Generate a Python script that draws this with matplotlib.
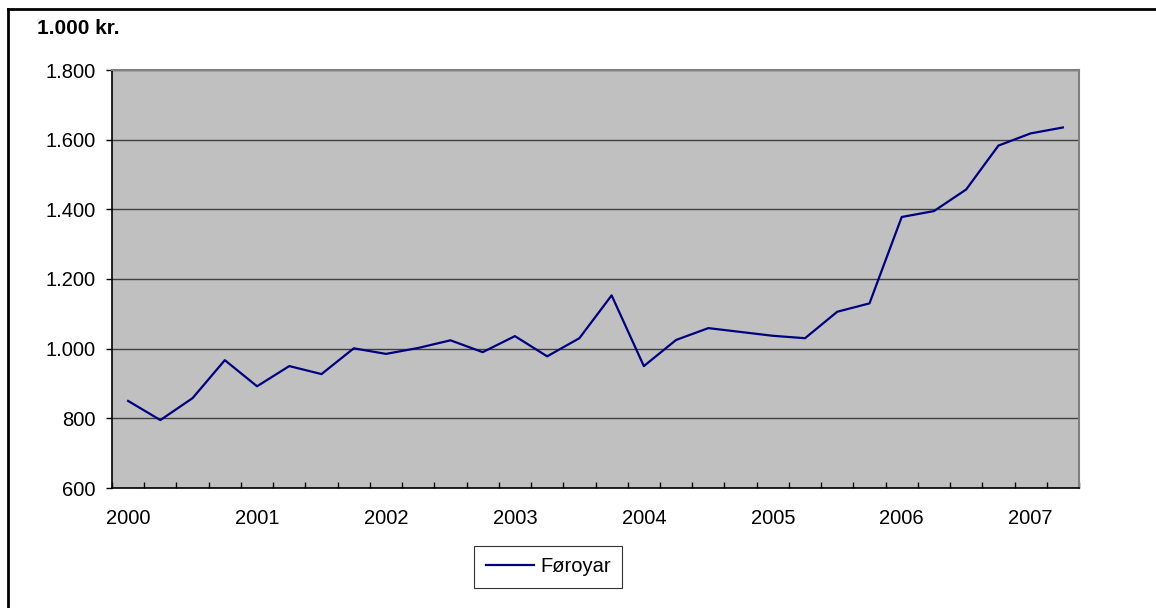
import numpy as np
import matplotlib
matplotlib.use("Agg")
import matplotlib.pyplot as plt
from matplotlib.lines import Line2D

plt.rcParams['font.family'] = ['Liberation Sans', 'DejaVu Sans']

# quarterly values, 2000 Q1 - 2007 Q2 (1.000 kr.)
values = [850, 795, 858, 967, 892, 950, 927, 1001, 985, 1002,
          1024, 990, 1036, 978, 1030, 1153, 950, 1025, 1059, 1048,
          1037, 1030, 1106, 1130, 1378, 1395, 1457, 1583, 1618, 1635]
years = ['2000', '2001', '2002', '2003', '2004', '2005', '2006', '2007']
yticks = [600, 800, 1000, 1200, 1400, 1600, 1800]
ylabels = ['600', '800', '1.000', '1.200', '1.400', '1.600', '1.800']
series_name = 'Føroyar'
unit = '1.000 kr.'

W, H = 1156, 608
fig = plt.figure(figsize=(W / 100, H / 100), dpi=100)

# plot area in pixels
x0, x1, y0, y1 = 112, 1079, 70, 488
ax = fig.add_axes([x0 / W, 1 - y1 / H, (x1 - x0) / W, (y1 - y0) / H])
ax.set_facecolor('#c0c0c0')

x = np.arange(len(values))
ax.plot(x, values, color='#000080', lw=1.6, label=series_name, zorder=3)

ax.set_xlim(-0.5, len(values) - 0.5)
ax.set_ylim(600, 1800)

ax.set_yticks(yticks)
ax.set_yticklabels(ylabels, fontsize=14.5)
ax.yaxis.grid(True, color='#404040', lw=1.0)
ax.set_axisbelow(True)

ax.set_xticks(np.arange(0, len(values), 4))
ax.set_xticklabels(years, fontsize=14.5)
ax.set_xticks(np.arange(-0.5, len(values), 1), minor=True)
ax.tick_params(axis='x', which='major', length=0, pad=15)
ax.tick_params(axis='x', which='minor', direction='in', length=4, width=1, color='black')
ax.tick_params(axis='y', direction='out', length=4, width=1, pad=8)

for side in ['left', 'bottom']:
    ax.spines[side].set_color('black')
    ax.spines[side].set_linewidth(1.2)
for side in ['right', 'top']:
    ax.spines[side].set_color('#808080')
    ax.spines[side].set_linewidth(1.5)

fig.text(37 / W, 1 - 29 / H, unit, fontsize=15, fontweight='bold', va='center', ha='left')

leg = ax.legend(loc='center', bbox_to_anchor=(548 / W, 1 - 567 / H),
                bbox_transform=fig.transFigure, fontsize=14.5, frameon=True,
                fancybox=False, handlelength=2.4, borderpad=0.58, handletextpad=0.3)
leg.get_frame().set_edgecolor('black')
leg.get_frame().set_linewidth(0.8)

# outer chart border (only left and top visible)
fig.add_artist(Line2D([8 / W, 8 / W], [0, 1 - 9 / H], color='black', lw=2, transform=fig.transFigure))
fig.add_artist(Line2D([8 / W, 1], [1 - 9 / H, 1 - 9 / H], color='black', lw=2, transform=fig.transFigure))

fig.savefig('out.png', dpi=100)
